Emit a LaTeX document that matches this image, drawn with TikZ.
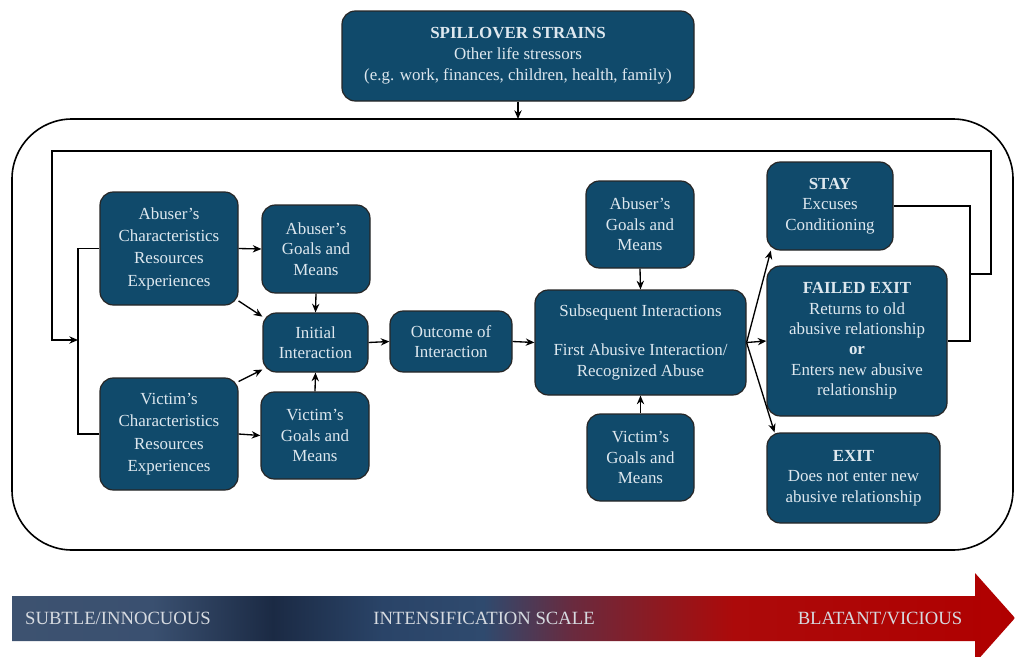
\documentclass[tikz,border=0pt]{standalone}
\usepackage{fontspec}
\setmainfont{Liberation Serif}
\usetikzlibrary{arrows.meta}
\definecolor{boxfill}{RGB}{16,74,107}
\definecolor{boxtext}{RGB}{222,232,239}
\definecolor{sc0}{HTML}{3D5270}
\definecolor{sc1}{HTML}{3A5070}
\definecolor{sc2}{HTML}{1B2A44}
\definecolor{sc3}{HTML}{2A4468}
\definecolor{sc4}{HTML}{2F4A6E}
\definecolor{sc5}{HTML}{6A2A3E}
\definecolor{sc6}{HTML}{8C1A22}
\definecolor{sc7}{HTML}{AC0A0A}
\definecolor{sc8}{HTML}{B00000}
\definecolor{scaletext}{RGB}{214,218,224}
\pgfdeclarehorizontalshading{intscale}{100bp}{color(0bp)=(sc0); color(25bp)=(sc0); color(32bp)=(sc1); color(38bp)=(sc2); color(43.5bp)=(sc3); color(48.5bp)=(sc4); color(53bp)=(sc5); color(57bp)=(sc6); color(61bp)=(sc7); color(75bp)=(sc8); color(100bp)=(sc8)}
\begin{document}
\begin{tikzpicture}[x=0.75pt,y=-0.75pt,
  box/.style={draw=black!85, line width=0.9pt, fill=boxfill, rounded corners=10pt, text=boxtext, align=center, inner sep=0pt, font=\fontsize{12.7}{15.3}\selectfont},
  charbox/.style={box, font=\fontsize{12.7}{16.75}\selectfont},
  conn/.style={line width=1pt, -{Stealth[length=6.5pt,width=5.5pt]}},
  plain/.style={line width=1pt},
  scalelabel/.style={text=scaletext, font=\fontsize{14}{16}\selectfont, inner sep=0pt}]
\useasboundingbox (0,0) rectangle (1015,657);

% outer frame
\draw[line width=1.2pt, rounded corners=45pt] (12,119) rectangle (1013,550);
\coordinate (frameTop) at (518,119);

% spillover
\node[box, minimum width=264pt, minimum height=67.5pt, font=\fontsize{12.7}{15.6}\selectfont] (spill) at (518,56)
  {\textbf{SPILLOVER STRAINS}\\Other life stressors\\(e.g. work, finances, children, health, family)};

% left column
\node[charbox, minimum width=103.5pt, minimum height=84.75pt] (abchar) at (169,248.5)
  {Abuser's\\Characteristics\\Resources\\Experiences};
\node[charbox, minimum width=103.5pt, minimum height=84pt] (vichar) at (169,434)
  {Victim's\\Characteristics\\Resources\\Experiences};
\node[box, minimum width=81pt, minimum height=66pt] (abgoalsL) at (316,249)
  {Abuser's\\Goals and\\Means};
\node[box, minimum width=78.75pt, minimum height=44.25pt] (init) at (315.5,342.5)
  {Initial\\Interaction};
\node[box, minimum width=81pt, minimum height=65.25pt] (vigoalsL) at (315,435.5)
  {Victim's\\Goals and\\Means};
\node[box, minimum width=91.5pt, minimum height=45.75pt] (outcome) at (451,341.5)
  {Outcome of\\Interaction};

% center
\node[box, minimum width=158.25pt, minimum height=78.75pt] (subseq) at (640.5,342.5)
  {Subsequent Interactions\\[14pt]First Abusive Interaction/\\Recognized Abuse};
\node[box, minimum width=81pt, minimum height=65.25pt] (abgoalsC) at (640,224.5)
  {Abuser's\\Goals and\\Means};
\node[box, minimum width=80.25pt, minimum height=65.25pt] (vigoalsC) at (640.5,457.5)
  {Victim's\\Goals and\\Means};

% right
\node[box, minimum width=94.5pt, minimum height=66pt] (stay) at (830,206)
  {\textbf{STAY}\\Excuses\\Conditioning};
\node[box, minimum width=135pt, minimum height=112.5pt] (failed) at (857,341)
  {\textbf{FAILED EXIT}\\Returns to old\\abusive relationship\\\textbf{or}\\Enters new abusive\\relationship};
\node[box, minimum width=129.75pt, minimum height=67.5pt] (exit) at (853.5,478)
  {\textbf{EXIT}\\Does not enter new\\abusive relationship};

% connectors
\draw[conn] (spill.south) -- (frameTop);
\draw[conn] (abchar.east) -- (abgoalsL.west);
\draw[conn] (abchar.-37) -- (init.154);
\draw[conn] (abgoalsL.south) -- (init.north);
\draw[conn] (vichar.37) -- (init.207);
\draw[conn] (vichar.east) -- (vigoalsL.west);
\draw[conn] (vigoalsL.north) -- (init.south);
\draw[conn] (init.east) -- (outcome.west);
\draw[conn] (outcome.east) -- (subseq.west);
\draw[conn] (abgoalsC.south) -- (subseq.north);
\draw[conn] (vigoalsC.north) -- (subseq.south);
\draw[conn] (subseq.east) -- (stay.217.5);
\draw[conn] (subseq.east) -- (failed.west);
\draw[conn] (subseq.east) -- (exit.150);

% feedback loop
\coordinate (jR) at (970,274);
\coordinate (loopR) at (991,274);
\coordinate (loopTL) at (52,151);
\coordinate (bus) at (78,340);
\draw[plain] (stay.east) -| (jR);
\draw[plain] (failed.east) -| (jR);
\draw[conn] (jR) -- (loopR) |- (loopTL) |- (bus);
\draw[plain] (abchar.west) -| (bus);
\draw[plain] (vichar.west) -| (bus);

% intensification scale
\shade[shading=intscale] (12,596) -- (975,596) -- (975,573) -- (1015,618) -- (975,663) -- (975,641) -- (12,641) -- cycle;
\node[scalelabel] (subtle) at (118,618) {SUBTLE/INNOCUOUS};
\node[scalelabel] (intens) at (484,618) {INTENSIFICATION SCALE};
\node[scalelabel] (blatant) at (880,618) {BLATANT/VICIOUS};
\end{tikzpicture}
\end{document}
